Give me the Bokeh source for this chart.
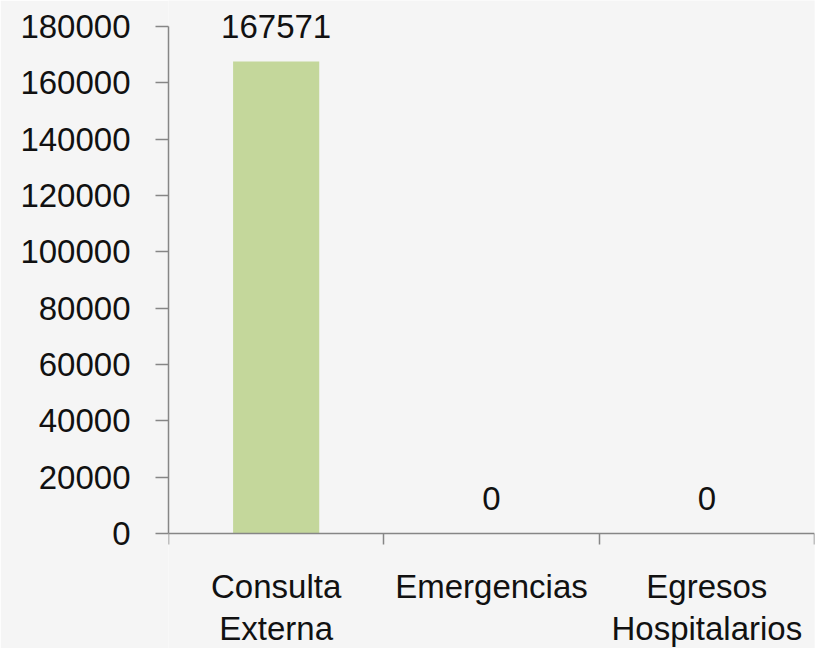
from bokeh.plotting import figure
from bokeh.models import (Range1d, LinearAxis, FixedTicker,
                          NumeralTickFormatter, ColumnDataSource)
from bokeh.core.properties import value
from bokeh.embed import file_html
from bokeh.resources import INLINE

categories = ["Consulta Externa", "Emergencias", "Egresos Hospitalarios"]
category_labels = ["Consulta\nExterna", "Emergencias", "Egresos\nHospitalarios"]
values = [167571, 0, 0]
y_ticks = [0, 20000, 40000, 60000, 80000, 100000, 120000, 140000, 160000, 180000]
y_max = 180000

FONT = "Liberation Sans"
FS = "33px"
AXIS_COLOR = "#868686"
BG = "#f5f5f5"

W, H = 815, 648
LEFT = 168
TOP_PX, ZERO_PX = 26, 533          # pixel rows of y_max and 0
per_px = y_max / (ZERO_PX - TOP_PX)
y_lo = -(H - ZERO_PX) * per_px
y_hi = y_max + TOP_PX * per_px

n = len(categories)
centers = [i + 0.5 for i in range(n)]
bounds = list(range(n + 1))
src = ColumnDataSource(dict(x=centers, val=values, lab=[str(v) for v in values]))

p = figure(width=W, height=H, x_range=Range1d(0, n), y_range=Range1d(y_lo, y_hi),
           output_backend="svg", toolbar_location=None, x_axis_location=None,
           y_axis_location=None, min_border_left=LEFT, min_border_right=1,
           min_border_top=0, min_border_bottom=0)
p.background_fill_color = BG
p.border_fill_color = BG
p.outline_line_color = None
p.grid.visible = False

# y axis
yax = LinearAxis(ticker=FixedTicker(ticks=y_ticks), formatter=NumeralTickFormatter(format="0"),
                 bounds=(0, y_max))
yax.axis_line_color = AXIS_COLOR
yax.axis_line_width = 1.5
yax.major_tick_line_color = AXIS_COLOR
yax.major_tick_line_width = 1.5
yax.major_tick_out = 13
yax.major_tick_in = 0
yax.minor_tick_line_color = None
yax.major_label_standoff = 25
yax.major_label_text_font = FONT
yax.major_label_text_font_size = FS
yax.major_label_text_color = "#111111"
p.add_layout(yax, "left")

# x axis: line + boundary ticks at y = 0
xax = LinearAxis(ticker=FixedTicker(ticks=bounds), fixed_location=0, bounds=(0, n))
xax.axis_line_color = AXIS_COLOR
xax.axis_line_width = 1.5
xax.major_tick_line_color = AXIS_COLOR
xax.major_tick_line_width = 1.5
xax.major_tick_out = 11
xax.major_tick_in = 0
xax.minor_tick_line_color = None
xax.major_label_overrides = {b: "" for b in bounds}
xax.major_label_text_font_size = "0px"
xax.major_label_standoff = 0
p.add_layout(xax, "below")

# category labels at centres
cax = LinearAxis(ticker=FixedTicker(ticks=centers), fixed_location=0)
cax.axis_line_color = None
cax.major_tick_line_color = None
cax.major_tick_out = 0
cax.major_tick_in = 0
cax.minor_tick_line_color = None
cax.major_label_overrides = dict(zip(centers, category_labels))
cax.major_label_text_font = FONT
cax.major_label_text_font_size = FS
cax.major_label_text_color = "#111111"
cax.major_label_text_line_height = 1.15
cax.major_label_standoff = 34
p.add_layout(cax, "below")

p.vbar(x="x", top="val", width=0.4, source=src, fill_color="#c4d79b", line_color=None)
p.text(x="x", y="val", text="lab", source=src, text_align="center",
       text_baseline="alphabetic", y_offset=-35, text_font=value(FONT),
       text_font_size=FS, text_color="#111111")

open("out.html", "w").write(file_html(p, INLINE))
